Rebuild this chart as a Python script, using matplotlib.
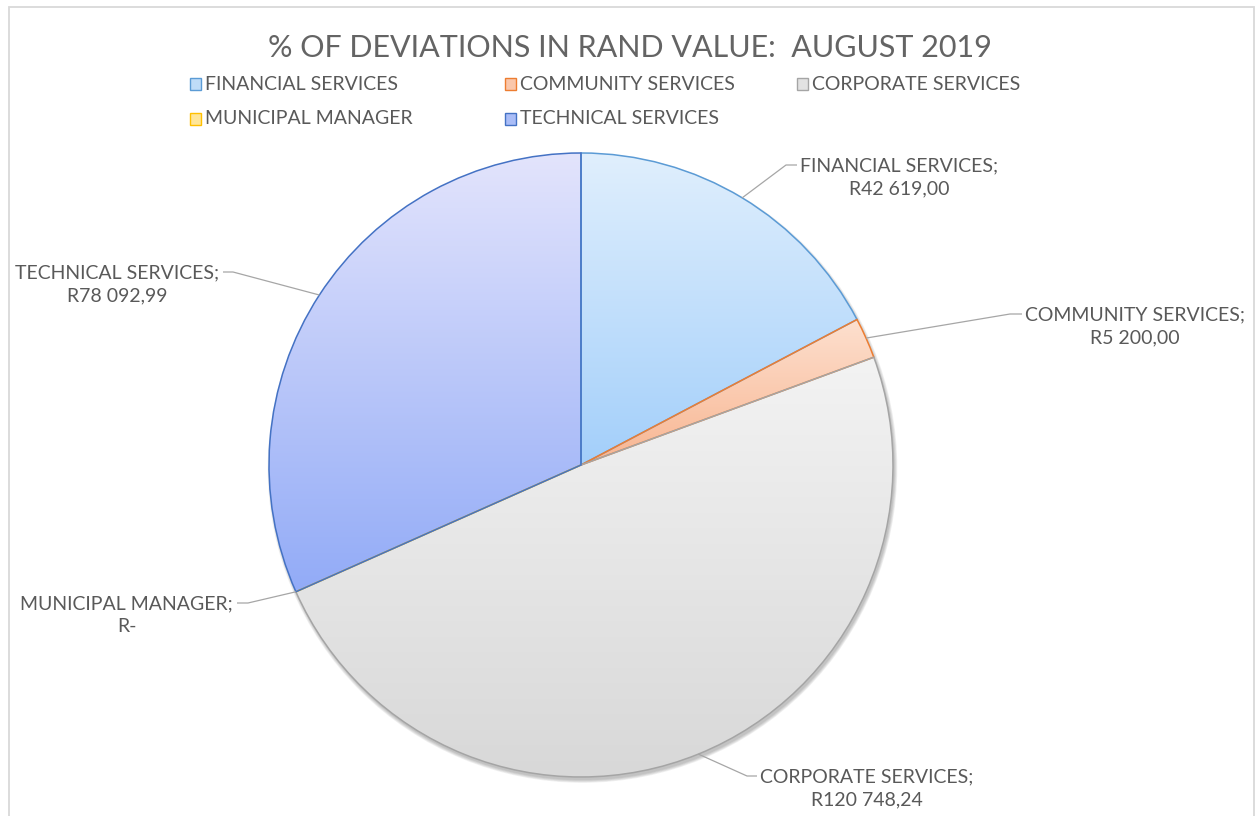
import matplotlib.pyplot as plt
import numpy as np
from matplotlib.patches import Rectangle, Circle
from matplotlib.colors import to_rgb

plt.rcParams['font.family'] = ['Lato', 'DejaVu Sans']

# deviations per directorate, August 2019 (Rand)
departments = ["FINANCIAL SERVICES", "COMMUNITY SERVICES", "CORPORATE SERVICES",
               "MUNICIPAL MANAGER", "TECHNICAL SERVICES"]
amounts = [42619.00, 5200.00, 120748.24, 0.00, 78092.99]

# slice colours: gradient top, gradient bottom, outline
grad_top = ["#e0effd", "#fde0cf", "#f3f3f3", "#fff2cc", "#e3e4fc"]
grad_bottom = ["#a3cffa", "#f8b591", "#d8d8d8", "#ffd966", "#92abf7"]
edges = ["#5b9bd5", "#ed7d31", "#a5a5a5", "#ffc000", "#4472c4"]
legend_fill = ["#bfdcf8", "#fac7ab", "#e2e2e2", "#ffe699", "#aabdf7"]

W, H = 1256, 816
TXT = "#595959"


def rand(v):
    if v == 0:
        return "R-"
    s = f"{v:,.2f}"
    return "R" + s.replace(",", " ").replace(".", ",")


def py(y):
    # pixel row (from top) to axes y
    return H - y


fig = plt.figure(figsize=(W / 100, H / 100), dpi=100)
ax = fig.add_axes([0, 0, 1, 1])

cx, cy, r = 581, py(465), 312

# soft shadow under the pie
for k in range(5):
    ax.add_patch(Circle((cx + 1.5, cy - 3.0), r + 0.7 * k, facecolor="#606060",
                        edgecolor="none", alpha=0.09, zorder=0))

wedges, _ = ax.pie(amounts, center=(cx, cy), radius=r, startangle=90,
                   counterclock=False, normalize=True,
                   wedgeprops=dict(linewidth=1.1, facecolor="none"))

for w, c0, c1, ec in zip(wedges, grad_top, grad_bottom, edges):
    w.set_edgecolor(ec)
    w.set_zorder(3)
    ext = w.get_path().get_extents()
    if ext.height < 1e-6 or abs(w.theta2 - w.theta1) < 1e-6:
        continue
    t = np.linspace(0, 1, 256)[:, None]
    a, b = np.array(to_rgb(c1)), np.array(to_rgb(c0))
    img = (a + (b - a) * t)[:, None, :]
    im = ax.imshow(img, extent=[ext.x0, ext.x1, ext.y0, ext.y1], origin="lower",
                   interpolation="bilinear", aspect="auto", zorder=2)
    im.set_clip_path(w)

# data labels with leader lines: elbow point, end of horizontal tick, side
label_layout = [
    ((786, 165), 797, "left"),
    ((1010, 314), 1022, "left"),
    ((747, 776), 757, "left"),
    ((248, 603), 237, "right"),
    ((233, 272), 223, "right"),
]

for w, name, val, (elbow, xend, side) in zip(wedges, departments, amounts, label_layout):
    ang = np.deg2rad((w.theta1 + w.theta2) / 2)
    x0 = cx + r * np.cos(ang)
    y0 = cy + r * np.sin(ang)
    ex, ey = elbow[0], py(elbow[1])
    ax.plot([x0, ex, xend], [y0, ey, ey], color="#a6a6a6", lw=0.9, zorder=4,
            solid_capstyle="butt")
    tx = xend + 3 if side == "left" else xend - 4
    ax.text(tx, ey - 12.5, f"{name};\n{rand(val)}", ha=side, va="center",
            multialignment="center", fontsize=14, color=TXT, linespacing=1.38,
            zorder=5)

ax.text(630, py(48), "% OF DEVIATIONS IN RAND VALUE:  AUGUST 2019", ha="center",
        va="center", fontsize=22, color="#646464")

# legend, two rows
legend_pos = [(190, 84), (505, 84), (797, 84), (190, 119), (505, 119)]
for (lx, ly), name, fc, ec in zip(legend_pos, departments, legend_fill, edges):
    ax.add_patch(Rectangle((lx, py(ly) - 6), 10.5, 12, facecolor=fc, edgecolor=ec,
                           lw=1.0, zorder=5))
    ax.text(lx + 15, py(ly), name, ha="left", va="center", fontsize=14, color=TXT)

# chart area border
ax.add_patch(Rectangle((8.5, -10), 1245, py(6.5) + 10, facecolor="none",
                       edgecolor="#d9d9d9", lw=1.3, zorder=6))

ax.set_xlim(0, W)
ax.set_ylim(0, H)
ax.set_aspect("auto")
ax.axis("off")

fig.savefig("out.png", dpi=100)
